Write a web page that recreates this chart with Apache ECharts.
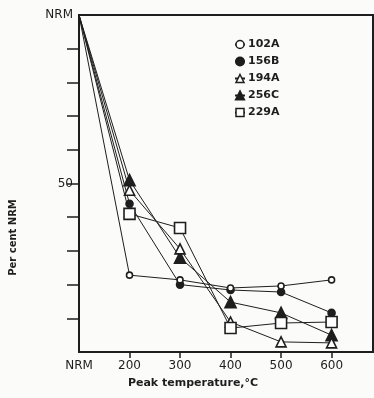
<!DOCTYPE html>
<html>
<head>
<meta charset="utf-8">
<script src="https://cdn.jsdelivr.net/npm/echarts@6/dist/echarts.min.js"></script>
<style>
  html, body { margin: 0; padding: 0; background: #fbfbfa; }
  #myChart { width: 374px; height: 398px; }
</style>
</head>
<body>
<div id="myChart"></div>
<script>
  // peak temperature steps, 100 stands for the NRM start
  var temps = [100, 200, 300, 400, 500, 600];
  var xLabels = ['NRM', '200', '300', '400', '500', '600'];
  var sampleNames = ['102A', '156B', '194A', '256C', '229A'];
  // per cent of NRM remaining
  var s102A = [100, 22.8, 21.4, 19.0, 19.6, 21.4];
  var s156B = [100, 44.0, 20.0, 18.4, 17.8, 11.6];
  var s194A = [100, 48.0, 30.6, 8.9, 3.0, 2.7];
  var s256C = [100, 51.0, 28.0, 14.8, 11.6, 5.0];
  var s229A = [100, 41.0, 36.8, 7.1, 8.6, 8.9];
  var yTickValues = [0, 10, 20, 30, 40, 50, 60, 70, 80, 90, 100];

  var ink = '#1e1e1e';
  var font = 'DejaVu Sans';

  function pts(vals) {
    return temps.map(function (t, i) {
      var p = { value: [t, vals[i]] };
      if (i === 0) p.symbol = 'none';
      return p;
    });
  }

  function makeSeries(name, vals, symbol, size, filled) {
    return {
      name: name,
      type: 'line',
      data: pts(vals),
      symbol: symbol,
      symbolSize: size,
      legendIcon: symbol,
      lineStyle: { color: ink, width: 1 },
      itemStyle: {
        color: filled ? ink : '#ffffff',
        borderColor: ink,
        borderWidth: 1.6
      },
      z: filled ? 3 : 4
    };
  }

  var myChart = echarts.init(document.getElementById('myChart'));
  var option = {
    backgroundColor: '#fbfbfa',
    animation: false,
    grid: {
      left: 79, top: 15, right: 1, bottom: 46,
      show: true, borderColor: ink, borderWidth: 2
    },
    legend: {
      orient: 'vertical',
      left: 229, top: 34,
      itemGap: 6,
      itemWidth: 10, itemHeight: 10,
      data: [
        { name: '102A', itemStyle: { borderWidth: 1.5 } },
        { name: '156B' },
        { name: '194A', itemStyle: { borderWidth: 1.5 } },
        { name: '256C' },
        { name: '229A', itemStyle: { borderWidth: 1.5 } }
      ],
      textStyle: { color: ink, fontFamily: font, fontWeight: 'bold', fontSize: 11, padding: [0, 0, 0, -2] }
    },
    xAxis: {
      type: 'value',
      min: 100, max: 682, interval: 100,
      name: 'Peak temperature,°C',
      nameLocation: 'middle',
      nameGap: 26,
      nameTextStyle: { color: ink, fontFamily: font, fontWeight: 'bold', fontSize: 11, padding: [0, 66, 0, 0] },
      axisLine: { show: true, lineStyle: { color: ink, width: 2 } },
      axisTick: { show: true, length: 6, lineStyle: { color: ink, width: 1.5 }, customValues: temps.slice(1) },
      axisLabel: {
        color: ink, fontFamily: font, fontSize: 12, margin: 8,
        customValues: temps,
        formatter: function (v) { return xLabels[temps.indexOf(v)] || ''; }
      },
      splitLine: { show: false }
    },
    yAxis: {
      type: 'value',
      min: 0, max: 100, interval: 10,
      name: 'Per cent NRM',
      nameLocation: 'middle',
      nameGap: 61,
      nameTextStyle: { color: ink, fontFamily: font, fontWeight: 'bold', fontSize: 10, padding: [0, 108, 0, 0] },
      axisLine: { show: true, lineStyle: { color: ink, width: 2 } },
      axisTick: { show: true, length: 12, lineStyle: { color: ink, width: 1.5 }, customValues: yTickValues.slice(1, 10) },
      axisLabel: {
        color: ink, fontFamily: font, fontSize: 12, margin: 6,
        customValues: [50, 100],
        formatter: function (v) { return v === 100 ? 'NRM' : String(v); }
      },
      splitLine: { show: false }
    },
    series: [
      makeSeries('102A', s102A, 'circle', 6, false),
      makeSeries('156B', s156B, 'circle', 7, true),
      makeSeries('194A', s194A, 'triangle', 10, false),
      makeSeries('256C', s256C, 'triangle', 11, true),
      makeSeries('229A', s229A, 'rect', 11, false)
    ]
  };
  myChart.setOption(option);
</script>
</body>
</html>
